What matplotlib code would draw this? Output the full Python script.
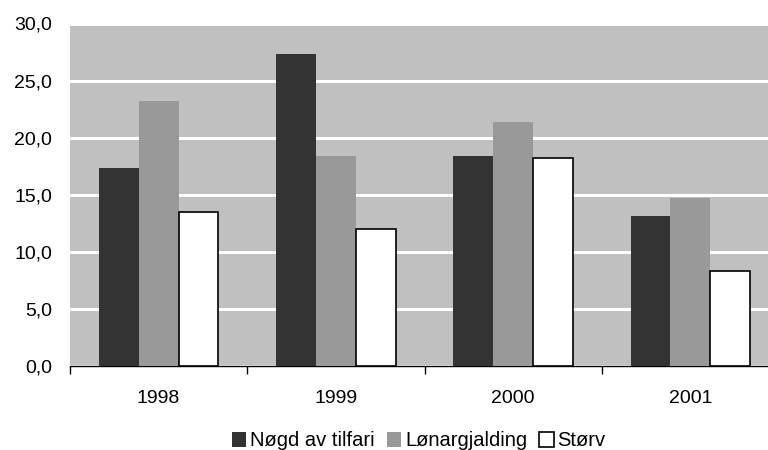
import matplotlib.pyplot as plt
import numpy as np

plt.rcParams['font.family'] = ['Liberation Sans', 'DejaVu Sans']

years = ['1998', '1999', '2000', '2001']
series_names = ['Nøgd av tilfari', 'Lønargjalding', 'Størv']
nogd = [17.3, 27.3, 18.4, 13.1]
lonar = [23.2, 18.4, 21.4, 14.7]
storv = [13.5, 12.0, 18.2, 8.3]

fig = plt.figure(figsize=(7.68, 4.5), dpi=100)
# right edge of plot area runs a little past the image, as in the reference
ax = fig.add_axes([70 / 768, 1 - 366 / 450, 709 / 768, 342.5 / 450])
ax.set_facecolor('#C0C0C0')

x = np.arange(len(years))
w = 0.225
ax.bar(x - w, nogd, w, color='#333333', label=series_names[0], zorder=3)
ax.bar(x, lonar, w, color='#999999', label=series_names[1], zorder=3)
ax.bar(x + w, storv, w, color='white', edgecolor='black', linewidth=1.2,
       label=series_names[2], zorder=3)

ax.set_xlim(-0.5, 3.5)
ax.set_ylim(0, 30)
ax.set_yticks(np.arange(0, 31, 5))
ax.set_yticklabels([f'{v:.1f}'.replace('.', ',') for v in np.arange(0, 31, 5)], fontsize=14)
ax.yaxis.grid(True, color='white', linewidth=2.2, zorder=1)
ax.tick_params(axis='y', length=0, pad=13)

ax.set_xticks(x)
ax.set_xticklabels(years, fontsize=14)
ax.set_xticks(np.arange(-0.5, 3.6, 1), minor=True)
ax.tick_params(axis='x', which='major', length=0, pad=17)
ax.tick_params(axis='x', which='minor', length=6, color='black', width=1)

for s in ['left', 'top', 'right']:
    ax.spines[s].set_visible(False)
ax.spines['bottom'].set_color('black')
ax.spines['bottom'].set_linewidth(1)

handles, labels = ax.get_legend_handles_labels()
fig.legend(handles, labels, loc='center', bbox_to_anchor=(419 / 768, 1 - 441 / 450),
           ncol=3, frameon=False, fontsize=14.5, handlelength=0.7, handleheight=0.7,
           handletextpad=0.2, columnspacing=0.6)

fig.savefig('out.png', dpi=100)
